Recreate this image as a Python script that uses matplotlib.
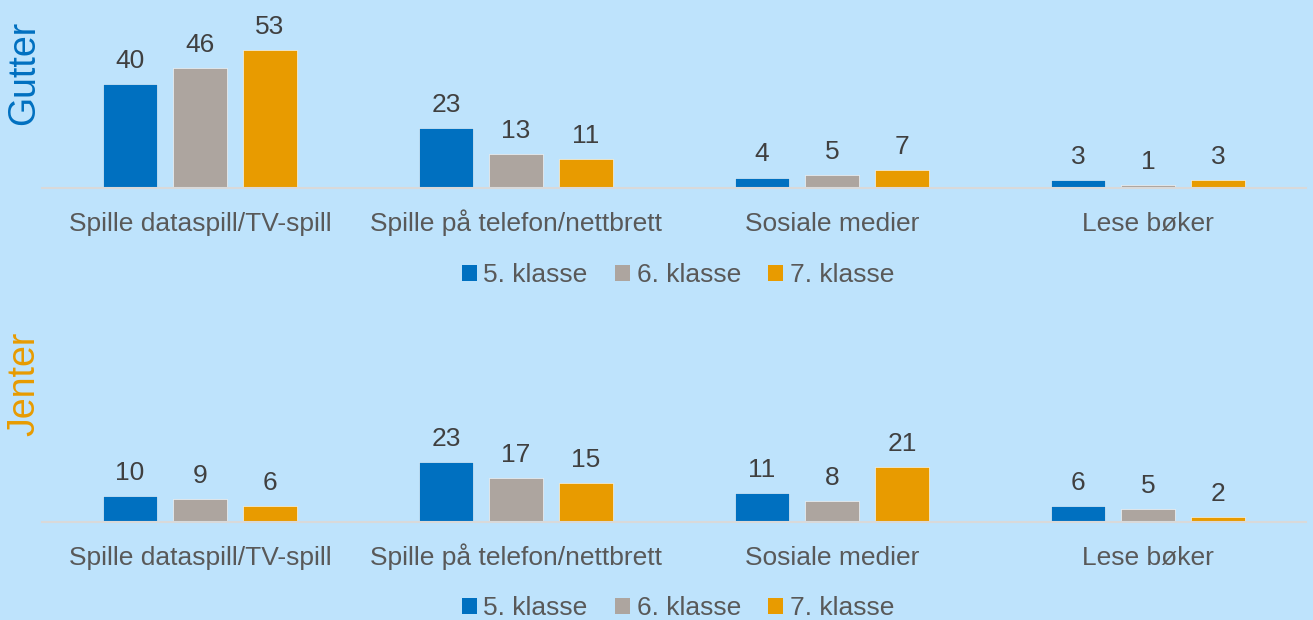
import matplotlib.pyplot as plt
from matplotlib.patches import Patch

categories = ['Spille dataspill/TV-spill', 'Spille på telefon/nettbrett',
              'Sosiale medier', 'Lese bøker']
grades = ['5. klasse', '6. klasse', '7. klasse']

gutter_5 = [40, 23, 4, 3]
gutter_6 = [46, 13, 5, 1]
gutter_7 = [53, 11, 7, 3]

jenter_5 = [10, 23, 11, 6]
jenter_6 = [9, 17, 8, 5]
jenter_7 = [6, 15, 21, 2]

colors = ['#0070C0', '#ADA59F', '#E89B00']
background = '#BEE3FC'
text_color = '#595959'

plt.rcParams['font.family'] = ['Liberation Sans', 'DejaVu Sans']

fig = plt.figure(figsize=(13.13, 6.2), dpi=100, facecolor=background)


def draw_panel(rect, series, title, title_color, title_y, legend_y):
    ax = fig.add_axes(rect)
    ax.set_facecolor(background)
    width = 0.171
    step = 0.2215
    x = list(range(len(categories)))
    for i, values in enumerate(series):
        pos = [v + (i - 1) * step for v in x]
        bars = ax.bar(pos, values, width, color=colors[i],
                      edgecolor='white', linewidth=0.4, zorder=2)
        ax.bar_label(bars, padding=8, fontsize=19, color='#404040')
    ax.set_xlim(-0.5, 3.5)
    ax.set_ylim(0, 68.5)
    ax.set_xticks(x)
    ax.set_xticklabels(categories, fontsize=19, color=text_color,
                       va='baseline')
    ax.tick_params(axis='x', length=0, pad=31)
    ax.set_yticks([])
    for side in ['top', 'right', 'left']:
        ax.spines[side].set_visible(False)
    ax.spines['bottom'].set_color('#D9D9D9')
    ax.spines['bottom'].set_linewidth(1.5)

    fig.text(0.0185, title_y, title, rotation=90, fontsize=27,
             color=title_color, ha='center', va='center')

    handles = [Patch(facecolor=c) for c in colors]
    fig.legend(handles, grades, loc='center', ncol=3,
               bbox_to_anchor=(0.5165, legend_y), frameon=False,
               fontsize=19, labelcolor=text_color,
               handlelength=0.55, handleheight=0.55, handletextpad=0.25,
               columnspacing=1.05)
    return ax


draw_panel([0.032, 0.6968, 0.9627, 0.287],
           [gutter_5, gutter_6, gutter_7], 'Gutter', '#0070C0', 0.883, 0.5565)
draw_panel([0.032, 0.158, 0.9627, 0.287],
           [jenter_5, jenter_6, jenter_7], 'Jenter', '#E89B00', 0.381, 0.019)

fig.savefig('out.png', dpi=100, facecolor=background)
